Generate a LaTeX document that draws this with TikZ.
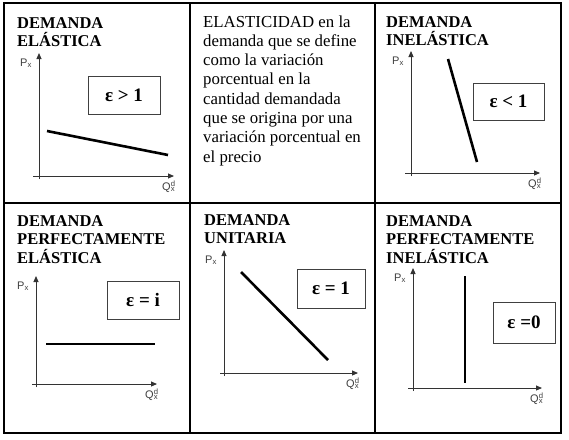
\documentclass[tikz,border=0pt]{standalone}
\usepackage{fontspec}
\setmainfont{Liberation Serif}
\newfontfamily\axisfont{Liberation Sans}
\usetikzlibrary{arrows.meta}
\newcommand\stacklines[1]{\vtop{\halign{##\hfil\cr#1\crcr}}}
\newcommand\myaxes[6]{%
  \coordinate (#1o) at (#2,#3);
  \coordinate (#1t) at (#2,#4);
  \coordinate (#1r) at (#5,#3);
  \coordinate (#1b) at (#2,#3+3);
  \coordinate (#1l) at (#6,#3);
  \draw[axisline] (#1b) -- (#1t);
  \draw[axisline] (#1l) -- (#1r);
  \node[axlabel] (#1p) at ([xshift=-19pt,yshift=-13pt]#1t) {P\textsubscript{x}};
  \node[axlabel] (#1q) at ([xshift=-12pt,yshift=-14pt]#1r) {Q\rlap{\textsuperscript{d}}\textsubscript{x}};
}
\begin{document}
\begin{tikzpicture}[x=1pt,y=-1pt,
  tablegrid/.style={line width=1.3pt, black},
  axisline/.style={line width=0.9pt, black!80, -{Triangle[length=6pt,width=5pt]}},
  dline/.style={line width=2.6pt, black},
  epsbox/.style={draw=black!75, line width=1pt, inner sep=0pt, font=\fontsize{19}{22}\selectfont\bfseries},
  titletext/.style={anchor=base west, inner sep=0pt, font=\fontsize{16.5}{18.8}\selectfont\bfseries},
  bodytext/.style={anchor=base west, inner sep=0pt, font=\fontsize{16.8}{19.3}\selectfont},
  axlabel/.style={anchor=base west, inner sep=0pt, text=black!75, font=\axisfont\fontsize{11}{13}\selectfont}
]
\useasboundingbox (0,0) rectangle (569,439);
\fill[white] (0,0) rectangle (569,439);
% table
\draw[tablegrid] (4,3) rectangle (561,433);
\draw[tablegrid] (190,3) -- (190,433);
\draw[tablegrid] (375,3) -- (375,433);
\draw[tablegrid] (4,203) -- (561,203);

% titles
\node[titletext] (t1) at (17,28) {\stacklines{DEMANDA\cr ELÁSTICA}};
\node[bodytext] (t2) at (203,27) {\stacklines{ELASTICIDAD en la\cr demanda que se define\cr como la variación\cr porcentual en la\cr cantidad demandada\cr que se origina por una\cr variación porcentual en\cr el precio}};
\node[titletext] (t3) at (386,27) {\stacklines{DEMANDA\cr INELÁSTICA}};
\node[titletext] (t4) at (17,226) {\stacklines{DEMANDA\cr PERFECTAMENTE\cr ELÁSTICA}};
\node[titletext] (t5) at (204,225) {\stacklines{DEMANDA\cr UNITARIA}};
\node[titletext] (t6) at (386,226) {\stacklines{DEMANDA\cr PERFECTAMENTE\cr INELÁSTICA}};

% axes
\myaxes{a}{39}{176}{53}{174}{33}
\myaxes{c}{411}{173}{51}{540}{405}
\myaxes{d}{36}{384}{276}{157}{32}
\myaxes{e}{224}{373}{250}{358}{220}
\myaxes{f}{413}{388}{268}{542}{408}

% demand curves
\coordinate (a1) at (47,131); \coordinate (a2) at (168,155);
\coordinate (c1) at (448,59); \coordinate (c2) at (477,162);
\coordinate (d1) at (46,344); \coordinate (d2) at (155,344);
\coordinate (e1) at (241,272); \coordinate (e2) at (328,360);
\coordinate (f1) at (465,276); \coordinate (f2) at (465,383);
\draw[dline] (a1) -- (a2);
\draw[dline] (c1) -- (c2);
\draw[dline] (d1) -- (d2);
\draw[dline] (e1) -- (e2);
\draw[dline] (f1) -- (f2);

% elasticity boxes
\node[epsbox, minimum width=72pt, minimum height=38pt] (ba) at (124,95) {ε > 1};
\node[epsbox, minimum width=71pt, minimum height=37pt] (bc) at (508.5,101.5) {ε < 1};
\node[epsbox, minimum width=72pt, minimum height=38pt] (bd) at (143,300) {ε = i};
\node[epsbox, minimum width=68pt, minimum height=39pt] (be) at (331,288.5) {ε = 1};
\node[epsbox, minimum width=62pt, minimum height=41pt] (bf) at (524,322.5) {ε =0};
\end{tikzpicture}
\end{document}
